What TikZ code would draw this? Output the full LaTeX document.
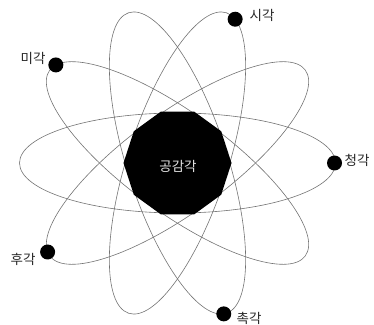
\documentclass[tikz,border=0pt]{standalone}
\usepackage{fontspec}
\setmainfont{Noto Sans CJK KR}
\usetikzlibrary{shapes.geometric}
\begin{document}
\begin{tikzpicture}[x=1pt,y=1pt,
  orbit/.style={draw=black!55,line width=0.6pt},
  dot/.style={circle,fill=black,inner sep=0pt,minimum size=15pt},
  lbl/.style={font=\fontsize{13.5}{15}\selectfont,text=black!85,inner sep=0pt},
  core/.style={regular polygon,regular polygon sides=10,fill=black,inner sep=0pt,minimum size=108pt}]
\useasboundingbox (0,0) rectangle (374,324);
\coordinate (c) at (177.5,161);
\foreach \a in {0,36,72,108,144}
  \draw[orbit,rotate around={\a:(c)}] (c) ellipse [x radius=158, y radius=50];
\node[core] (gk) at (c) {};
\node[font=\fontsize{13.5}{15}\selectfont,text=black!10,inner sep=0pt] (gkt) at (178,158) {공감각};
\path[shift={(c)},rotate=72] (-12:158 and 50) node[dot] (d1) {};
\path[shift={(c)},rotate=144] (-9:158 and 50) node[dot] (d2) {};
\path[shift={(c)},rotate=0] (0:157 and 50) node[dot] (d3) {};
\path[shift={(c)},rotate=36] (175:158 and 50) node[dot] (d4) {};
\path[shift={(c)},rotate=108] (177:158 and 50) node[dot] (d5) {};
\node[lbl] (l1) at (262,309) {시각};
\node[lbl] (l2) at (33,266) {미각};
\node[lbl] (l3) at (357,164) {청각};
\node[lbl] (l4) at (23,65) {후각};
\node[lbl] (l5) at (249,6) {촉각};
\end{tikzpicture}
\end{document}
